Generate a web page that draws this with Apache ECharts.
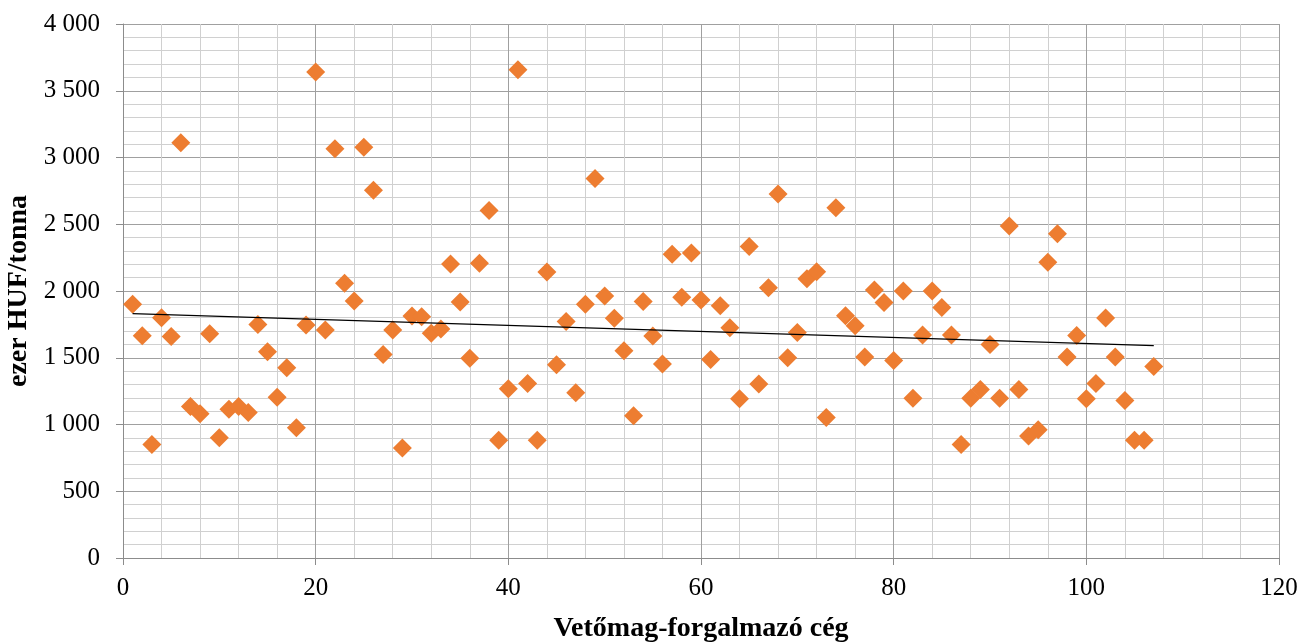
<!DOCTYPE html>
<html>
<head>
<meta charset="utf-8">
<script src="https://cdn.jsdelivr.net/npm/echarts@6/dist/echarts.min.js"></script>
<style>
html,body{margin:0;padding:0;background:#fff;}
#chart{width:1301px;height:642px;}
</style>
</head>
<body>
<div id="chart"></div>
<script>
const companyIds = [1,2,3,4,5,6,7,8,9,10,11,12,13,14,15,16,17,18,19,20,
  21,22,23,24,25,26,27,28,29,30,31,32,33,34,35,36,37,38,39,40,
  41,42,43,44,45,46,47,48,49,50,51,52,53,54,55,56,57,58,59,60,
  61,62,63,64,65,66,67,68,69,70,71,72,73,74,75,76,77,78,79,80,
  81,82,83,84,85,86,87,88,89,90,91,92,93,94,95,96,97,98,99,100,
  101,102,103,104,105,106,107];
const pricePerTon = [1900,1665,850,1800,1660,3110,1135,1080,1680,900,
  1115,1135,1090,1750,1545,1205,1425,975,1745,3640,
  1708,3066,2058,1926,3076,2755,1524,1708,824,1813,
  1808,1684,1716,2203,1918,1497,2208,2603,882,1268,
  3658,1308,882,2142,1447,1771,1237,1900,2842,1963,
  1795,1553,1066,1921,1663,1453,2276,1953,2284,1932,
  1487,1889,1724,1192,2334,1303,2024,2726,1500,1689,
  2092,2145,1053,2624,1815,1740,1505,2008,1913,1479,
  2000,1197,1671,2000,1876,1671,850,1197,1263,1600,
  1197,2487,1263,913,960,2216,2429,1505,1666,1192,
  1308,1797,1505,1179,882,882,1434];
const yTickLabels = ['0','500','1 000','1 500','2 000','2 500','3 000','3 500','4 000'];
const xTickLabels = ['0','20','40','60','80','100','120'];
const xTitle = 'Vetőmag-forgalmazó cég';
const yTitle = 'ezer HUF/tonna';

const points = companyIds.map((x, i) => [x, pricePerTon[i]]);
// least-squares linear trendline from the data
const n = points.length;
let sx = 0, sy = 0, sxx = 0, sxy = 0;
points.forEach(([x, y]) => { sx += x; sy += y; sxx += x * x; sxy += x * y; });
const slope = (n * sxy - sx * sy) / (n * sxx - sx * sx);
const intercept = (sy - slope * sx) / n;
const x0 = companyIds[0], x1 = companyIds[companyIds.length - 1];
const trend = [[x0, intercept + slope * x0], [x1, intercept + slope * x1]];

const font = '"Liberation Serif", "Times New Roman", serif';
const chart = echarts.init(document.getElementById('chart'), null, {renderer: 'canvas'});
chart.setOption({
  animation: false,
  backgroundColor: '#ffffff',
  grid: {left: 123, right: 22, top: 24, bottom: 84, containLabel: false, outerBoundsMode: 'none'},
  xAxis: {
    type: 'value', min: 0, max: 120, interval: 20,
    name: xTitle, nameLocation: 'middle', nameGap: 57,
    nameTextStyle: {fontFamily: font, fontWeight: 'bold', fontSize: 28, color: '#000'},
    axisLine: {show: true, onZero: false, lineStyle: {color: '#8c8c8c', width: 1}},
    axisTick: {show: true, length: 7, inside: false, lineStyle: {color: '#8c8c8c'}},
    minorTick: {show: false, splitNumber: 5},
    axisLabel: {margin: 18, fontFamily: font, fontSize: 25, color: '#000',
      formatter: v => xTickLabels[Math.round(v / 20)]},
    splitLine: {show: true, lineStyle: {color: '#a0a0a0', width: 1}},
    minorSplitLine: {show: true, lineStyle: {color: '#d0d0d0', width: 1}}
  },
  yAxis: {
    type: 'value', min: 0, max: 4000, interval: 500,
    name: yTitle, nameLocation: 'middle', nameGap: 73,
    nameTextStyle: {fontFamily: font, fontWeight: 'bold', fontSize: 28, color: '#000'},
    axisLine: {show: true, lineStyle: {color: '#8c8c8c', width: 1}},
    axisTick: {show: true, length: 7, inside: false, lineStyle: {color: '#8c8c8c'}},
    minorTick: {show: false, splitNumber: 5},
    axisLabel: {margin: 23, fontFamily: font, fontSize: 25, color: '#000',
      formatter: v => yTickLabels[Math.round(v / 500)]},
    splitLine: {show: true, lineStyle: {color: '#a0a0a0', width: 1}},
    minorSplitLine: {show: true, lineStyle: {color: '#d0d0d0', width: 1}}
  },
  series: [
    {
      type: 'scatter', data: points, symbol: 'diamond', symbolSize: 19,
      itemStyle: {color: '#ED7D31', opacity: 1}, z: 2
    },
    {
      type: 'line', data: trend, showSymbol: false, symbol: 'none',
      lineStyle: {color: '#000000', width: 1.3}, z: 3, silent: true
    }
  ]
});
</script>
</body>
</html>
